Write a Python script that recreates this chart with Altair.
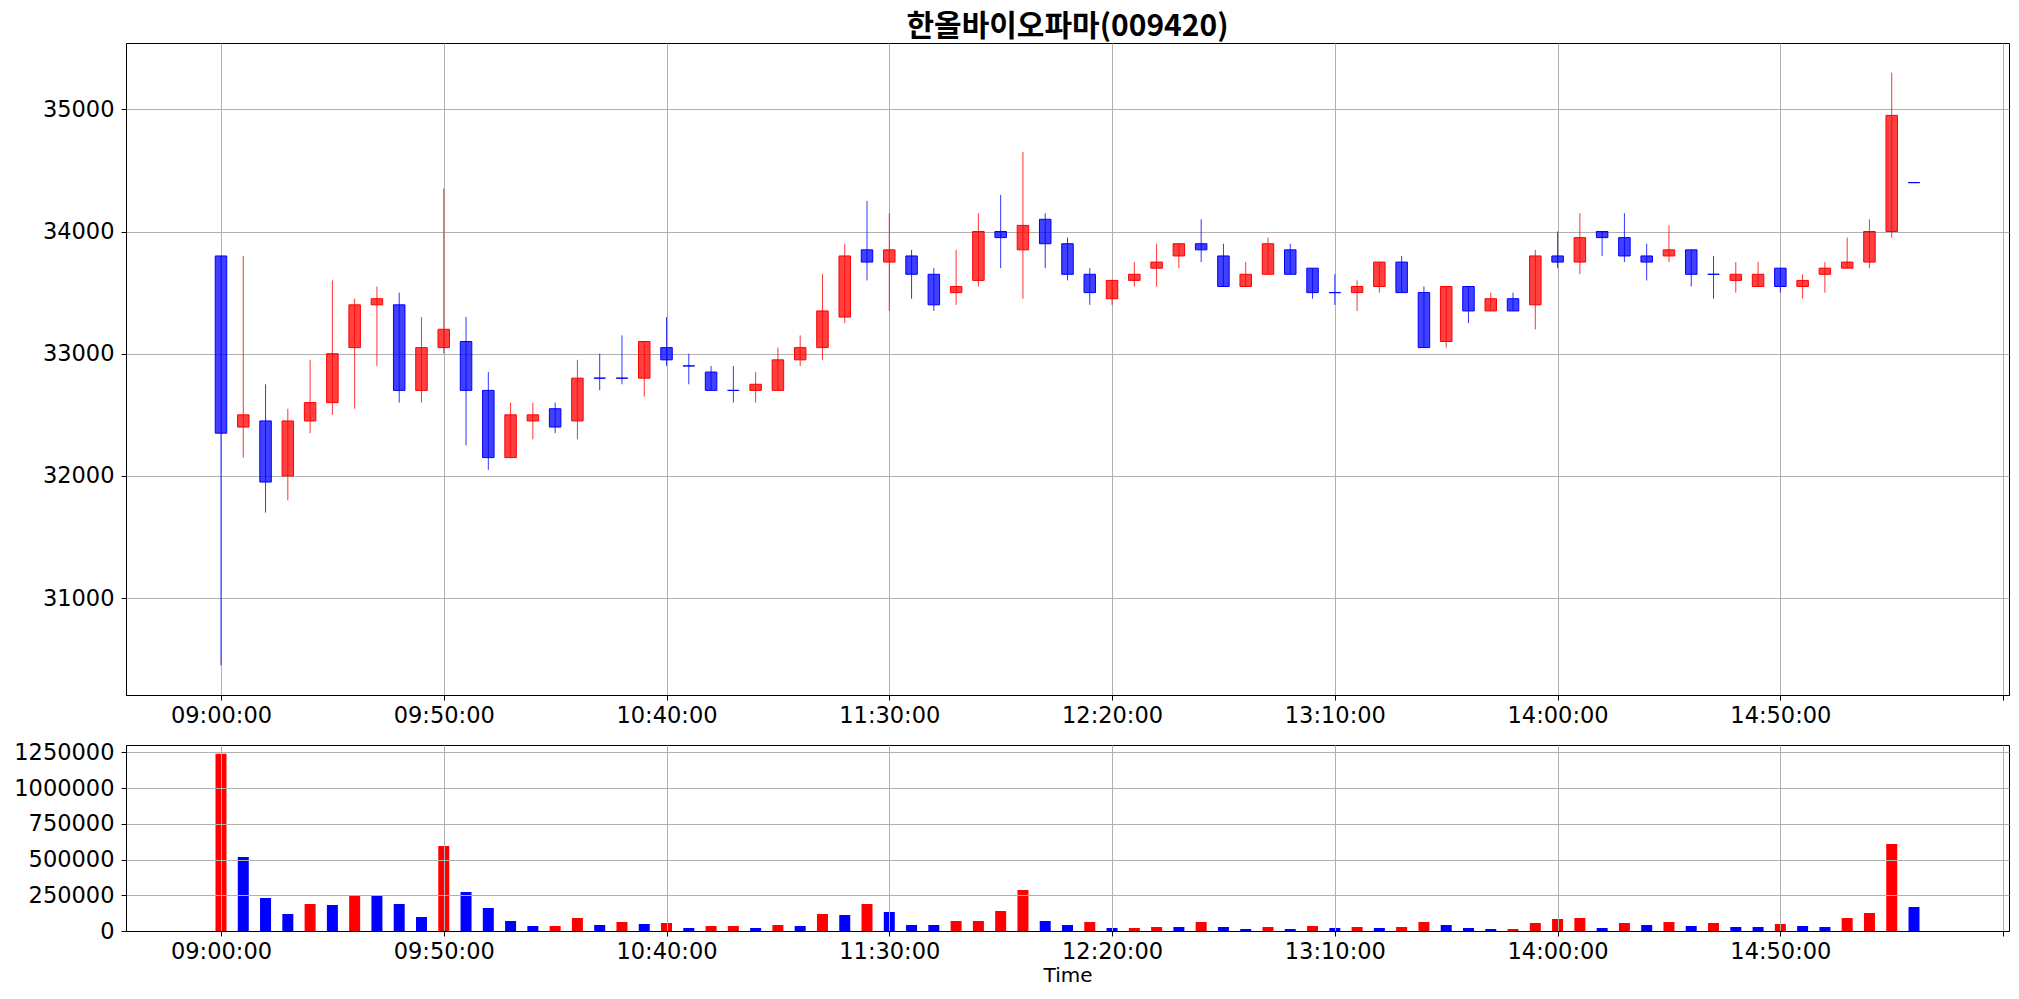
import altair as alt
import pandas as pd

TITLE = "한올바이오파마(009420)"

times = ["09:00", "09:05", "09:10", "09:15", "09:20", "09:25", "09:30", "09:35", "09:40", "09:45",
         "09:50", "09:55", "10:00", "10:05", "10:10", "10:15", "10:20", "10:25", "10:30", "10:35",
         "10:40", "10:45", "10:50", "10:55", "11:00", "11:05", "11:10", "11:15", "11:20", "11:25",
         "11:30", "11:35", "11:40", "11:45", "11:50", "11:55", "12:00", "12:05", "12:10", "12:15",
         "12:20", "12:25", "12:30", "12:35", "12:40", "12:45", "12:50", "12:55", "13:00", "13:05",
         "13:10", "13:15", "13:20", "13:25", "13:30", "13:35", "13:40", "13:45", "13:50", "13:55",
         "14:00", "14:05", "14:10", "14:15", "14:20", "14:25", "14:30", "14:35", "14:40", "14:45",
         "14:50", "14:55", "15:00", "15:05", "15:10", "15:15", "15:20"]

opens = [33800, 32400, 32450, 32000, 32450, 32600, 33050, 33400, 33400, 32700,
         33050, 33100, 32700, 32150, 32450, 32550, 32450, 32800, 32800, 32800,
         33050, 32900, 32850, 32700, 32700, 32700, 32950, 33050, 33300, 33850,
         33750, 33800, 33650, 33500, 33600, 34000, 33850, 34100, 33900, 33650,
         33450, 33600, 33700, 33800, 33900, 33800, 33550, 33650, 33850, 33700,
         33500, 33500, 33550, 33750, 33500, 33100, 33550, 33350, 33450, 33400,
         33800, 33750, 34000, 33950, 33800, 33800, 33850, 33650, 33600, 33550,
         33700, 33550, 33650, 33700, 33750, 34000, 34400]
highs = [33800, 33800, 32750, 32550, 32950, 33600, 33450, 33550, 33500, 33300,
         34350, 33300, 32850, 32600, 32600, 32600, 32950, 33000, 33150, 33100,
         33300, 33000, 32900, 32900, 32850, 33050, 33150, 33650, 33900, 34250,
         34150, 33850, 33700, 33850, 34150, 34300, 34650, 34150, 33950, 33700,
         33600, 33750, 33900, 33900, 34100, 33900, 33750, 33950, 33900, 33700,
         33650, 33600, 33750, 33800, 33550, 33550, 33550, 33500, 33500, 33850,
         34000, 34150, 34000, 34150, 33900, 34050, 33850, 33800, 33750, 33750,
         33700, 33650, 33750, 33950, 34100, 35300, 34400]
lows = [30450, 32150, 31700, 31800, 32350, 32500, 32550, 32900, 32600, 32600,
        33000, 32250, 32050, 32150, 32300, 32350, 32300, 32700, 32750, 32650,
        32900, 32750, 32700, 32600, 32600, 32700, 32900, 32950, 33250, 33600,
        33350, 33450, 33350, 33400, 33550, 33700, 33450, 33700, 33600, 33400,
        33400, 33550, 33550, 33700, 33750, 33550, 33550, 33650, 33650, 33450,
        33400, 33350, 33500, 33500, 33050, 33050, 33250, 33350, 33350, 33200,
        33700, 33650, 33800, 33750, 33600, 33750, 33550, 33450, 33500, 33550,
        33500, 33450, 33500, 33700, 33700, 33950, 34400]
closes = [32350, 32500, 31950, 32450, 32600, 33000, 33400, 33450, 32700, 33050,
          33200, 32700, 32150, 32500, 32500, 32400, 32800, 32800, 32800, 33100,
          32950, 32900, 32700, 32700, 32750, 32950, 33050, 33350, 33800, 33750,
          33850, 33650, 33400, 33550, 34000, 33950, 34050, 33900, 33650, 33500,
          33600, 33650, 33750, 33900, 33850, 33550, 33650, 33900, 33650, 33500,
          33500, 33550, 33750, 33500, 33050, 33550, 33350, 33450, 33350, 33800,
          33750, 33950, 33950, 33800, 33750, 33850, 33650, 33650, 33650, 33650,
          33550, 33600, 33700, 33750, 34000, 34950, 34400]

volumes = [1240000, 518000, 231000, 119000, 189000, 182000, 247000, 247000, 189000, 98000,
           595000, 273000, 161000, 70000, 35000, 35000, 91000, 42000, 63000, 49000,
           56000, 21000, 35000, 35000, 21000, 42000, 35000, 119000, 112000, 189000,
           133000, 42000, 42000, 70000, 70000, 140000, 287000, 70000, 42000, 63000,
           21000, 21000, 28000, 28000, 63000, 28000, 14000, 28000, 14000, 35000,
           21000, 28000, 21000, 28000, 63000, 42000, 21000, 14000, 14000, 56000,
           84000, 91000, 21000, 56000, 42000, 63000, 35000, 56000, 28000, 28000,
           49000, 35000, 28000, 91000, 126000, 609000, 168000]
vol_colors = ["red", "blue", "blue", "blue", "red", "blue", "red", "blue", "blue", "blue",
              "red", "blue", "blue", "blue", "blue", "red", "red", "blue", "red", "blue",
              "red", "blue", "red", "red", "blue", "red", "blue", "red", "blue", "red",
              "blue", "blue", "blue", "red", "red", "red", "red", "blue", "blue", "red",
              "blue", "red", "red", "blue", "red", "blue", "blue", "red", "blue", "red",
              "blue", "red", "blue", "red", "red", "blue", "blue", "blue", "red", "red",
              "red", "red", "blue", "red", "blue", "red", "blue", "red", "blue", "blue",
              "red", "blue", "blue", "red", "red", "red", "blue"]

x_ticks = [540, 590, 640, 690, 740, 790, 840, 890, 940]
price_ticks = [31000, 32000, 33000, 34000, 35000]
vol_ticks = [0, 250000, 500000, 750000, 1000000, 1250000]
x_domain = [519.8, 940.2]
price_domain = [30207.5, 35542.5]
vol_domain = [0, 1302000]

df = pd.DataFrame({
    "time": times, "open": opens, "high": highs, "low": lows, "close": closes,
    "volume": volumes, "vcolor": vol_colors,
})
df["minute"] = df["time"].str.slice(0, 2).astype(int) * 60 + df["time"].str.slice(3, 5).astype(int)
df["dir"] = ["up" if c > o else "down" for o, c in zip(df["open"], df["close"])]

label_expr = ("datum.value >= 940 ? '' : "
              "(floor(datum.value/60) < 10 ? '0' : '') + floor(datum.value/60) + ':' + "
              "(datum.value % 60 < 10 ? '0' : '') + (datum.value % 60) + ':00'")

dir_scale = alt.Scale(domain=["up", "down"], range=["#ff0000", "#0000ff"])
x_scale = alt.Scale(domain=x_domain, nice=False, zero=False)


def x_enc(title=None, z=0):
    return alt.X("minute:Q", scale=x_scale,
                 axis=alt.Axis(values=x_ticks, labelExpr=label_expr, title=title, zindex=z,
                               labelFlush=False, labelOverlap=False))


base = alt.Chart(df)
y_price = alt.Scale(domain=price_domain, nice=False, zero=False)
price_axis = alt.Axis(values=price_ticks, format="d", title=None)

wick = base.mark_rule(strokeWidth=1, opacity=0.8).encode(
    x=x_enc(),
    y=alt.Y("low:Q", scale=y_price, axis=price_axis),
    y2="high:Q",
    color=alt.Color("dir:N", scale=dir_scale, legend=None),
)
body = base.mark_bar(size=11.5, strokeWidth=1, fillOpacity=0.75).encode(
    x=x_enc(),
    y=alt.Y("open:Q", scale=y_price, axis=price_axis),
    y2="close:Q",
    fill=alt.Fill("dir:N", scale=dir_scale, legend=None),
    stroke=alt.Stroke("dir:N", scale=dir_scale, legend=None),
)

top = alt.layer(wick, body).properties(
    width=1883, height=652,
    title=alt.TitleParams(TITLE, font="Noto Sans CJK KR", fontSize=30, fontWeight="bold",
                          anchor="middle", frame="group", offset=1, color="black"),
)

vol = base.mark_bar(size=11).encode(
    x=x_enc("Time", 1),
    y=alt.Y("volume:Q", scale=alt.Scale(domain=vol_domain, nice=False),
            axis=alt.Axis(values=vol_ticks, format="d", title=None, zindex=1)),
    color=alt.Color("vcolor:N", scale=alt.Scale(domain=["red", "blue"], range=["#ff0000", "#0000ff"]),
                    legend=None),
).properties(width=1883, height=186)

chart = alt.vconcat(top, vol, spacing=13).properties(
    padding={"left": 5, "top": 3, "right": 0, "bottom": 0},
    background="white",
).configure_view(
    stroke="black", strokeWidth=1,
).configure_axis(
    labelFont="DejaVu Sans", labelFontSize=22.5, labelColor="black",
    tickColor="black", tickSize=5, domainColor="black",
    gridColor="#b0b0b0", gridWidth=1,
    titleFont="DejaVu Sans", titleFontSize=20, titleFontWeight="normal", titleColor="black",
    titlePadding=3,
).configure_axisX(labelPadding=4).configure_axisY(labelPadding=7)

chart.save("out.html", embed_options={"renderer": "svg", "actions": False})
